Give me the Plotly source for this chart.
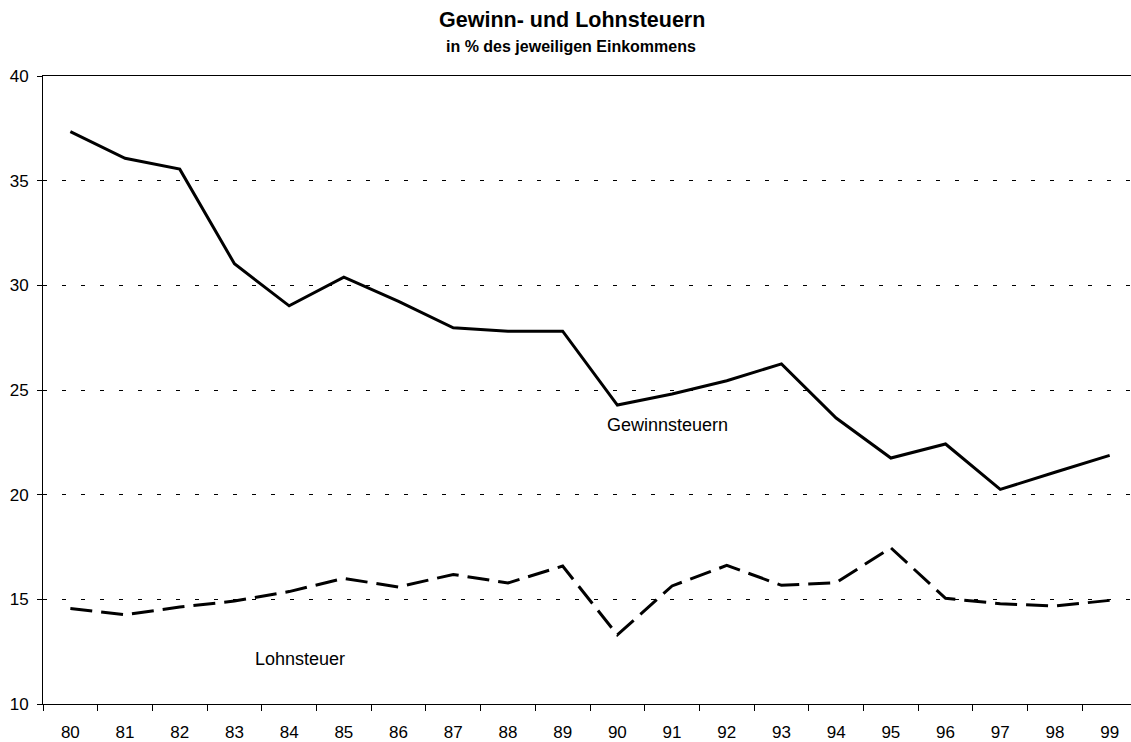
import plotly.graph_objects as go

years = ["80", "81", "82", "83", "84", "85", "86", "87", "88", "89",
         "90", "91", "92", "93", "94", "95", "96", "97", "98", "99"]
gewinnsteuern = [37.34, 36.07, 35.55, 31.03, 29.02, 30.39, 29.23, 27.97, 27.81, 27.81,
                 24.28, 24.81, 25.44, 26.25, 23.66, 21.75, 22.42, 20.25, 21.07, 21.88]
lohnsteuer = [14.56, 14.27, 14.63, 14.92, 15.37, 16.00, 15.59, 16.19, 15.78, 16.59,
              13.30, 15.64, 16.62, 15.67, 15.80, 17.46, 15.05, 14.79, 14.68, 14.95]
y_ticks = [10, 15, 20, 25, 30, 35, 40]

FONT = "Liberation Sans, Arial, sans-serif"

W, H = 1131, 742
ML, MR, MT, MB = 43, 0, 76, 38
plot_h = H - MT - MB
plot_w = W - ML - MR


def paper_y(fig_y):
    return 1 + (MT - fig_y) / plot_h


def paper_x(fig_x):
    return (fig_x - ML) / plot_w


fig = go.Figure()
fig.add_trace(go.Scatter(x=years, y=gewinnsteuern, mode="lines", name="Gewinnsteuern",
                         line=dict(color="black", width=3)))
fig.add_trace(go.Scatter(x=years, y=lohnsteuer, mode="lines", name="Lohnsteuer",
                         line=dict(color="black", width=3, dash="22px,9px")))

fig.add_annotation(x=9.78, y=23.33, text="Gewinnsteuern", showarrow=False,
                   xanchor="left", yanchor="middle", font=dict(size=18, color="black", family=FONT))
fig.add_annotation(x=3.34, y=12.16, text="Lohnsteuer", showarrow=False,
                   xanchor="left", yanchor="middle", font=dict(size=18, color="black", family=FONT))

fig.add_annotation(x=paper_x(571.5), y=paper_y(20.5), xref="paper", yref="paper",
                   text="<b>Gewinn- und Lohnsteuern</b>", showarrow=False,
                   xanchor="center", yanchor="middle",
                   font=dict(size=21.5, family=FONT, color="black"))
fig.add_annotation(x=paper_x(571), y=paper_y(47), xref="paper", yref="paper",
                   text="<b>in % des jeweiligen Einkommens</b>", showarrow=False,
                   xanchor="center", yanchor="middle",
                   font=dict(size=16, family=FONT, color="black"))

fig.update_layout(
    width=W, height=H,
    margin=dict(l=ML, r=MR, t=MT, b=MB, autoexpand=False),
    paper_bgcolor="white", plot_bgcolor="white",
    showlegend=False,
    font=dict(family=FONT, color="black", size=17),
    xaxis=dict(type="category", range=[-0.5, 19.39], showline=True, linecolor="black", linewidth=1,
               mirror=True, ticks="outside", ticklen=6, tickcolor="black", tickson="boundaries",
               showgrid=False, tickfont=dict(size=17, family=FONT), ticklabelstandoff=13,
               automargin=False),
    yaxis=dict(range=[10, 40], tickvals=y_ticks, showline=True, linecolor="black", linewidth=1,
               ticks="outside", ticklen=5, tickcolor="black",
               showgrid=True, gridcolor="black", gridwidth=1, griddash="4px,15px",
               zeroline=False, tickfont=dict(size=17, family=FONT), ticklabelstandoff=5,
               automargin=False),
)

fig.write_html("out.html", config={"displayModeBar": False},
               post_script="document.body.style.margin='0';document.body.style.overflow='hidden';")
